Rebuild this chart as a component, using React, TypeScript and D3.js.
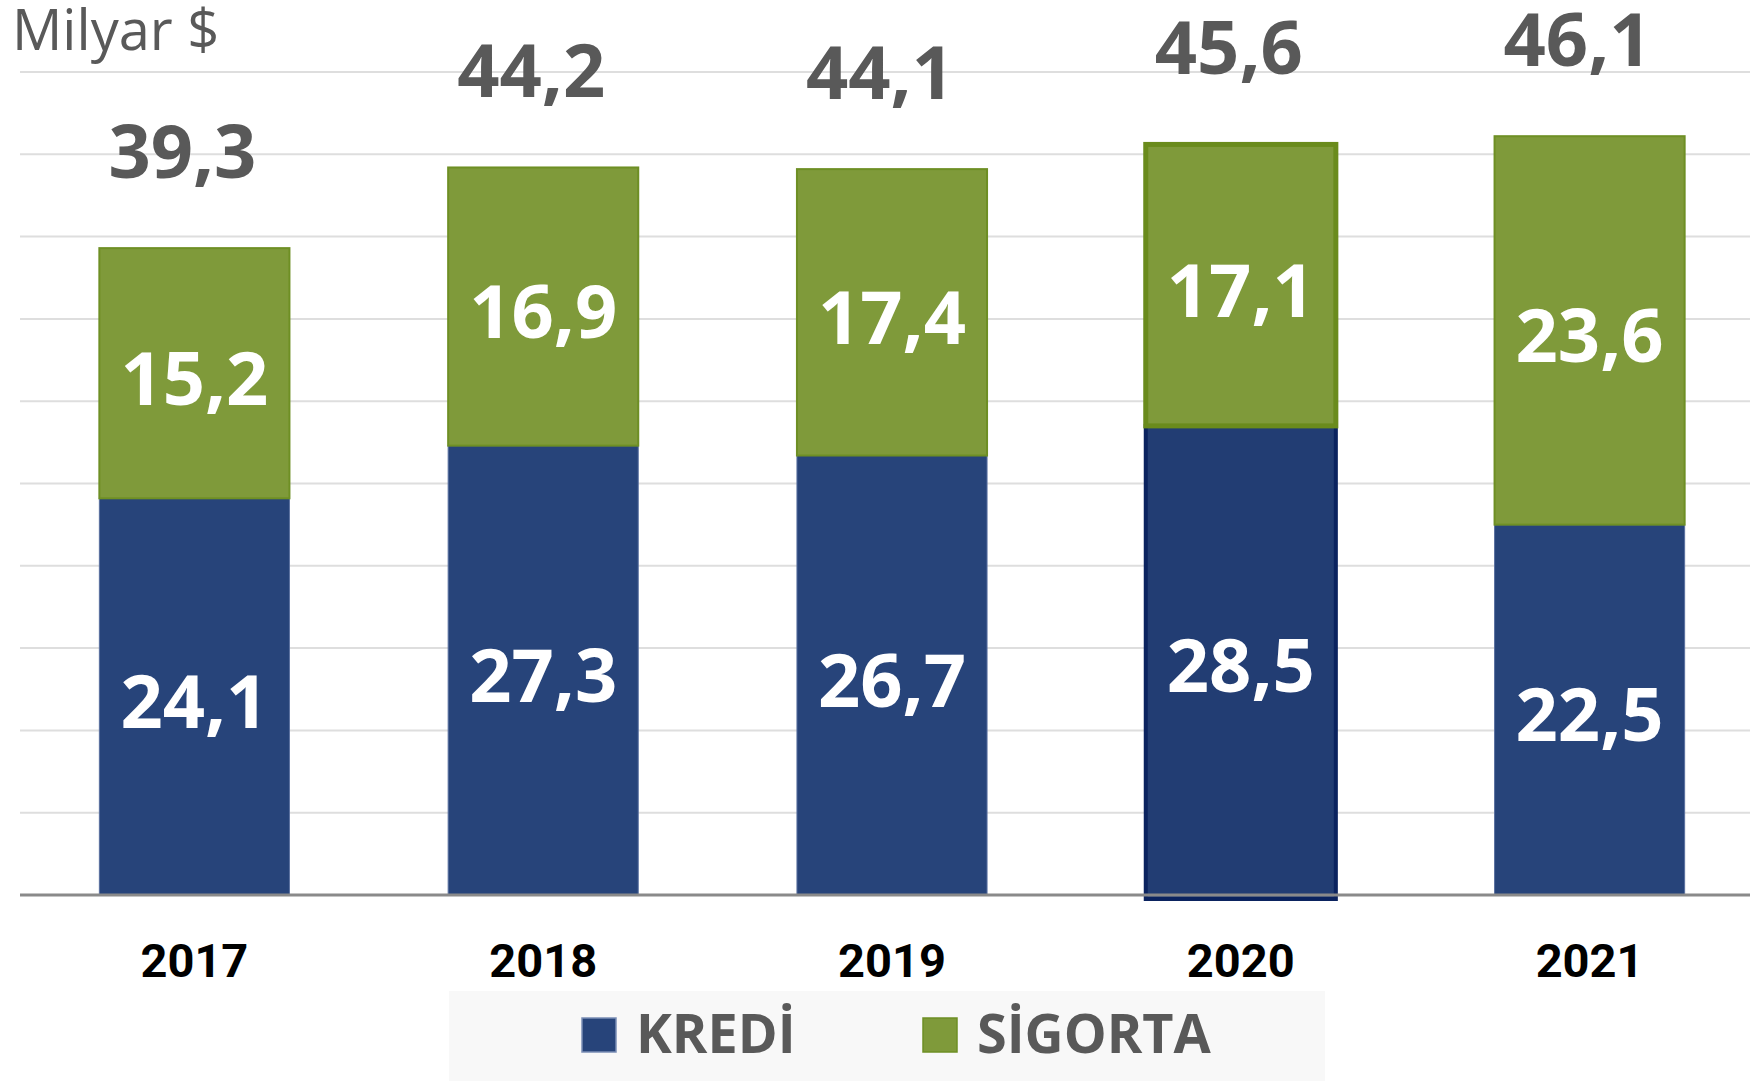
import React from "react";
import * as d3 from "d3";

const years = ["2017", "2018", "2019", "2020", "2021"];
const kredi = [24.1, 27.3, 26.7, 28.5, 22.5];
const sigorta = [15.2, 16.9, 17.4, 17.1, 23.6];
const totals = [39.3, 44.2, 44.1, 45.6, 46.1];
const gridTicks = [0, 5, 10, 15, 20, 25, 30, 35, 40, 45, 50];
const seriesNames = ["KREDİ", "SİGORTA"];
const unitLabel = "Milyar $";
const highlightYear = "2020";

const W = 1750;
const H = 1081;
const BLUE = "#27447a";
const GREEN = "#7f9a3a";
const fmt = (v: number) => v.toFixed(1).replace(".", ",");

export default function App() {
  const x = d3
    .scaleBand<string>()
    .domain(years)
    .range([20, 1764])
    .paddingInner(0.455)
    .paddingOuter(0.2275);
  const y = d3.scaleLinear().domain([0, 50]).range([895, 72]);
  const rows = years.map((yr, i) => ({ yr, k: kredi[i], s: sigorta[i], t: totals[i] }));
  const numFont = "'Open Sans', sans-serif";

  return (
    <svg
      width={W}
      height={H}
      style={{ position: "absolute", left: 0, top: 0, background: "#fff" }}
    >
      {gridTicks
        .filter((t) => t !== 0)
        .map((t) => (
          <line key={t} x1={20} x2={W} y1={y(t)} y2={y(t)} stroke="#dedede" strokeWidth={2} />
        ))}
      <text x={12} y={50} fontFamily={numFont} fontSize={56} fill="#595959">
        {unitLabel}
      </text>
      {rows.map((r) => {
        const bx = x(r.yr)!;
        const bw = x.bandwidth();
        const hl = r.yr === highlightYear;
        const cx = bx + bw / 2;
        return (
          <g key={r.yr}>
            <rect
              x={bx}
              y={y(r.k)}
              width={bw}
              height={y(0) - y(r.k) + (hl ? 4 : 0)}
              fill={hl ? "#223d73" : BLUE}
              stroke={hl ? "#0b235f" : "#5a70a0"}
              strokeWidth={hl ? 4 : 1}
            />
            <rect
              x={bx}
              y={y(r.k + r.s)}
              width={bw}
              height={y(r.k) - y(r.k + r.s)}
              fill={GREEN}
              stroke={hl ? "#6a8b1c" : "#6e8f24"}
              strokeWidth={hl ? 5 : 2}
            />
            <text
              x={cx}
              y={(y(0) + y(r.k)) / 2 + 3}
              textAnchor="middle"
              dominantBaseline="central"
              fontFamily={numFont}
              fontWeight={700}
              fontSize={74}
              fill="#fff"
            >
              {fmt(r.k)}
            </text>
            <text
              x={cx}
              y={(y(r.k) + y(r.k + r.s)) / 2 + 3}
              textAnchor="middle"
              dominantBaseline="central"
              fontFamily={numFont}
              fontWeight={700}
              fontSize={74}
              fill="#fff"
            >
              {fmt(r.s)}
            </text>
            <text
              x={cx - 12}
              y={y(r.t) - 70}
              textAnchor="middle"
              fontFamily={numFont}
              fontWeight={700}
              fontSize={74}
              fill="#595959"
            >
              {fmt(r.t)}
            </text>
            <text
              x={cx}
              y={977}
              textAnchor="middle"
              fontFamily="Roboto, sans-serif"
              fontWeight={700}
              fontSize={47}
              fill="#000"
            >
              {r.yr}
            </text>
          </g>
        );
      })}
      <line x1={20} x2={W} y1={y(0)} y2={y(0)} stroke="#8a8a8a" strokeWidth={3} />
      <rect x={449} y={991} width={876} height={90} fill="#f8f8f8" />
      {seriesNames.map((name, i) => {
        const sx = i === 0 ? 582 : 923;
        return (
          <g key={name}>
            <rect
              x={sx}
              y={1018}
              width={34}
              height={34}
              fill={i === 0 ? BLUE : GREEN}
              stroke={i === 0 ? "#7a8db5" : "#6e8f24"}
              strokeWidth={1.5}
            />
            <text
              x={sx + 54}
              y={1053}
              fontFamily={numFont}
              fontWeight={700}
              fontSize={54}
              fill="#595959"
            >
              {name}
            </text>
          </g>
        );
      })}
    </svg>
  );
}
